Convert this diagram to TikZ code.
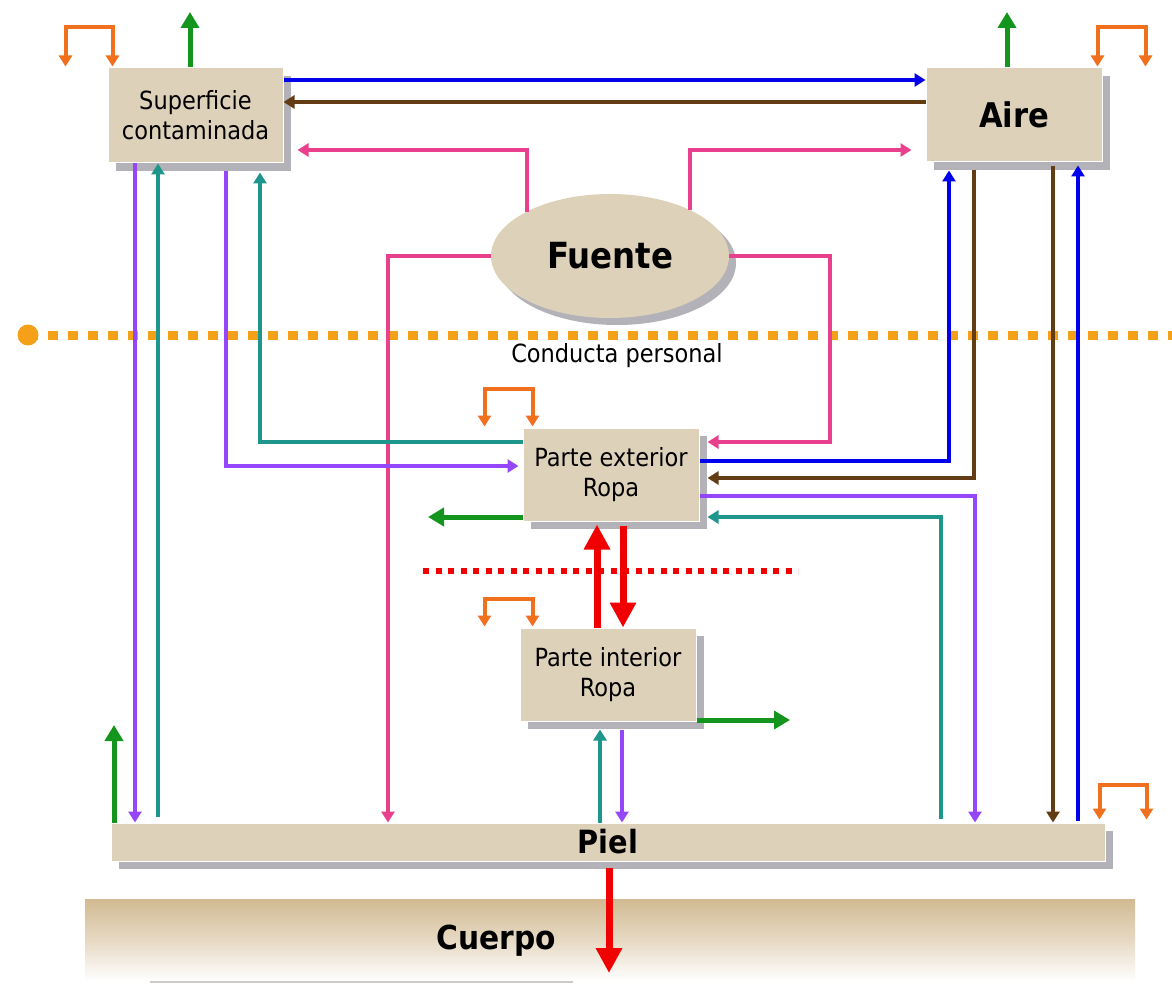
\documentclass[tikz,border=0pt]{standalone}
\usepackage{fontspec}
\setmainfont{DejaVu Sans Condensed}
\usetikzlibrary{arrows.meta,shapes.geometric,shadows,calc}
\definecolor{boxfill}{RGB}{222,209,186}
\definecolor{shgray}{RGB}{178,178,184}
\definecolor{cblue}{RGB}{0,0,235}
\definecolor{cbrown}{RGB}{100,60,20}
\definecolor{cpink}{RGB}{232,64,140}
\definecolor{cpurple}{RGB}{150,70,250}
\definecolor{cteal}{RGB}{30,150,140}
\definecolor{cgreen}{RGB}{20,150,30}
\definecolor{corange}{RGB}{240,112,30}
\definecolor{cdot}{RGB}{245,160,25}
\definecolor{cred}{RGB}{240,0,0}
\definecolor{ctan}{RGB}{210,186,146}
\begin{document}
\begin{tikzpicture}[x=1pt,y=-1pt,
  box/.style={rectangle, fill=boxfill, draw=white, line width=1pt, align=center, inner sep=0pt,
    font=\fontsize{25}{30}\selectfont,
    drop shadow={shadow xshift=8pt, shadow yshift=-8pt, fill=shgray, opacity=1}},
  bigtext/.style={font=\fontsize{34}{40}\selectfont\bfseries},
  conn/.style={line width=3.5pt, -{Triangle[width=13pt,length=11pt]}},
  greenarr/.style={line width=5pt, draw=cgreen, -{Triangle[width=18pt,length=16pt]}},
  looparr/.style={line width=4pt, draw=corange, {Triangle[width=13pt,length=11pt]}-{Triangle[width=13pt,length=11pt]}},
  redarr/.style={line width=7pt, draw=cred, -{Triangle[width=25pt,length=25pt]}}
]
\useasboundingbox (0,0) rectangle (1172,987);

% Cuerpo band
\node[rectangle, inner sep=0pt, minimum width=1050pt, minimum height=82pt,
  top color=ctan, bottom color=white, middle color=ctan!55] (cuerpo) at (610,940) {};
\node[font=\fontsize{33}{40}\selectfont\bfseries] (cuerpotxt) at (496,941) {Cuerpo};
\draw[line width=1.5pt, gray!40] (150,982) -- (573,982);

% dotted lines
\draw[cdot, line width=9pt, dash pattern=on 10pt off 10pt] (28,335) -- (1172,335);
\fill[cdot] (28,335) circle (10.5);
\draw[cred, line width=6pt, dash pattern=on 6pt off 6.5pt] (423,571) -- (798,571);
\node[font=\fontsize{25}{30}\selectfont] (cond) at (617,356) {Conducta personal};

% nodes
\node[box, minimum width=175pt, minimum height=95pt] (sup) at (195.5,115.5) {Superficie\\contaminada};
\node[box, bigtext, minimum width=176pt, minimum height=94pt] (aire) at (1014,115) {Aire};
\node[ellipse, fill=boxfill, inner sep=0pt, minimum width=238pt, minimum height=124pt,
  font=\fontsize{36}{40}\selectfont\bfseries,
  drop shadow={shadow xshift=7pt, shadow yshift=-7pt, fill=shgray, opacity=1}] (fue) at (610,256) {Fuente};
\node[box, minimum width=176pt, minimum height=93pt] (pext) at (611,474.5) {Parte exterior\\Ropa};
\node[box, minimum width=176pt, minimum height=93pt] (pint) at (608,674.5) {Parte interior\\Ropa};
\node[box, minimum width=994pt, minimum height=38pt, font=\fontsize{32}{36}\selectfont\bfseries] (piel) at (608,842) {Piel};

% top connectors
\draw[conn, cblue] (sup.east |- 0,80) -- (aire.west |- 0,80);
\draw[conn, cbrown] (aire.west |- 0,102) -- (sup.east |- 0,102);

% pink from Fuente
\draw[conn, cpink] ($(fue.center)+(-83,-44)$) -- (527,150) -- ($(sup.east |- 0,150)+(14,0)$);
\draw[conn, cpink] ($(fue.center)+(80,-46)$) -- (690,150) -- ($(aire.west |- 0,150)+(-14,0)$);
\draw[conn, cpink] (fue.west) -- (388,256) -- (388,0 |- piel.north);
\draw[conn, cpink] (fue.east) -- (830,256) -- (830,442) -- ($(pext.east |- 0,442)+(8,0)$);

% left side
\draw[conn, cteal] (pext.west |- 0,442) -- (260,442) -- ($(sup.south -| 260,0)+(0,9)$);
\draw[conn, cpurple, shorten >=4pt] ($(sup.south -| 226,0)+(0,8)$) -- (226,466) -- (pext.west |- 0,466);
\draw[conn, cpurple] (sup.south -| 135,0) -- (135,0 |- piel.north);
\draw[conn, cteal] ($(piel.north -| 158,0)+(0,-6)$) -- (sup.south -| 158,0);
\draw[greenarr] (piel.north -| 114,0) -- (114,725);

% middle
\draw[conn, cteal] (piel.north -| 600,0) -- ($(pint.south -| 600,0)+(0,8)$);
\draw[conn, cpurple] ($(pint.south -| 622,0)+(0,8)$) -- (piel.north -| 622,0);
\draw[greenarr] (pint.east |- 0,720) -- (790,720);
\draw[greenarr] (pext.west |- 0,517) -- (428,517);
\draw[redarr] (pint.north -| 597,0) -- ($(pext.south -| 597,0)+(0,3)$);
\draw[redarr] ($(pext.south -| 623,0)+(0,4)$) -- (pint.north -| 623,0);
\draw[redarr] ($(piel.south -| 609,0)+(0,6)$) -- (609,973);

% right side
\draw[conn, cblue] (pext.east |- 0,461) -- (949,461) -- ($(aire.south -| 949,0)+(0,8)$);
\draw[conn, cbrown] ($(aire.south -| 974,0)+(0,8)$) -- (974,478) -- ($(pext.east |- 0,478)+(8,0)$);
\draw[conn, cpurple] (pext.east |- 0,496) -- (975,496) -- (piel.north -| 975,0);
\draw[conn, cteal] ($(piel.north -| 941,0)+(0,-4)$) -- (941,517) -- ($(pext.east |- 0,517)+(8,0)$);
\draw[conn, cbrown] ($(aire.south -| 1053,0)+(0,4)$) -- (piel.north -| 1053,0);
\draw[conn, cblue] ($(piel.north -| 1078,0)+(0,-2)$) -- ($(aire.south -| 1078,0)+(0,3)$);

% green outflows at top
\draw[greenarr] (sup.north -| 190,0) -- (190,12);
\draw[greenarr] (aire.north -| 1007,0) -- (1007,12);

% orange loops
\draw[looparr] ($(sup.north west)+(-42,-1)$) -- ++(0,-39) -| ($(sup.north west)+(5,-1)$);
\draw[looparr] ($(aire.north east)+(-5,-1)$) -- ++(0,-39) -| ($(aire.north east)+(43,-1)$);
\draw[looparr] ($(pext.north west)+(-38,-1)$) -- ++(0,-38) -| ($(pext.north west)+(10,-1)$);
\draw[looparr] ($(pint.north west)+(-35,-1)$) -- ++(0,-28) -| ($(pint.north west)+(13,-1)$);
\draw[looparr] ($(piel.north east)+(-6,-3)$) -- ++(0,-35) -| ($(piel.north east)+(41,-3)$);
\end{tikzpicture}
\end{document}
